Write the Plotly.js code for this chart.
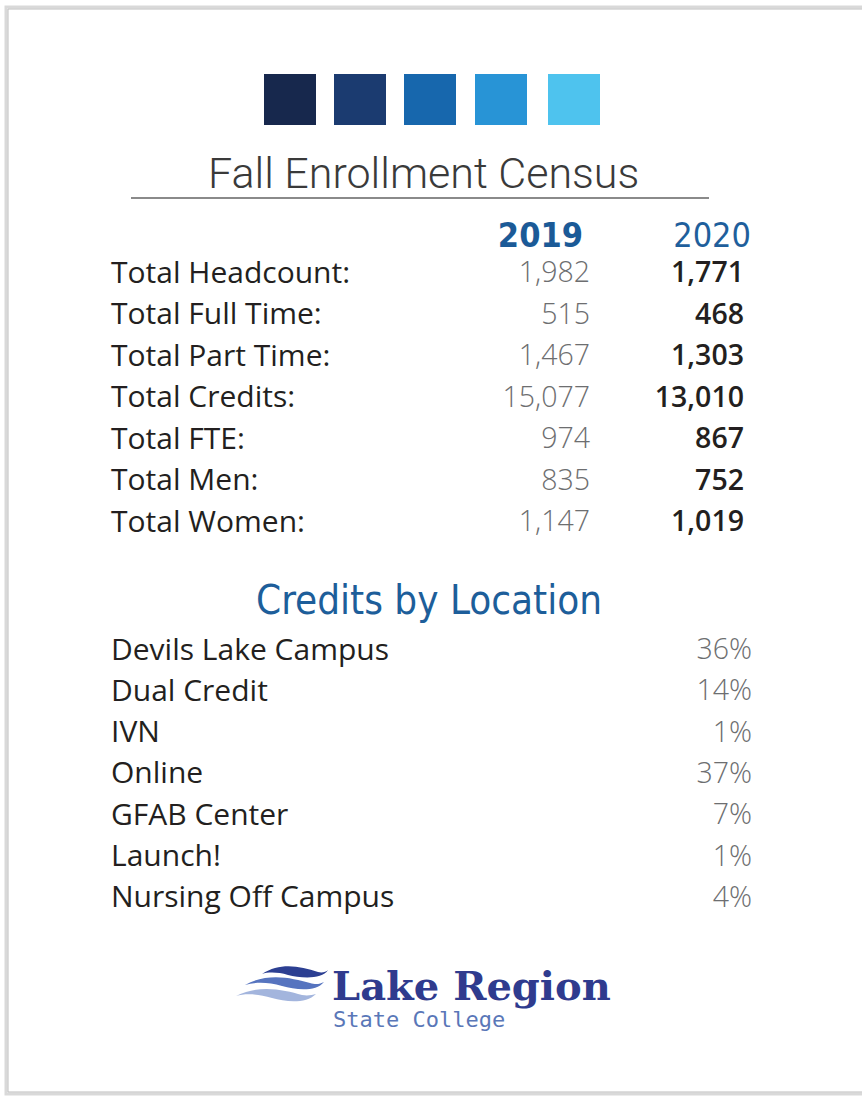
<!DOCTYPE html>
<html><head><meta charset="utf-8">
<script src="https://cdn.plot.ly/plotly-3.0.1.min.js"></script>
<style>html,body{margin:0;padding:0;background:#fff;}#chart{width:862px;height:1100px;}</style>
</head><body><div id="chart"></div>
<script>
const years = ["2019", "2020"];
const metrics = ["Total Headcount:", "Total Full Time:", "Total Part Time:", "Total Credits:", "Total FTE:", "Total Men:", "Total Women:"];
const values2019 = [1982, 515, 1467, 15077, 974, 835, 1147];
const values2020 = [1771, 468, 1303, 13010, 867, 752, 1019];
const locations = ["Devils Lake Campus", "Dual Credit", "IVN", "Online", "GFAB Center", "Launch!", "Nursing Off Campus"];
const locationPct = [36, 14, 1, 37, 7, 1, 4];
const swatchColors = ["#17284d", "#1b3b70", "#1767ad", "#2894d6", "#4ec3ee"];

const fmt = v => v.toLocaleString('en-US');
const rowY0 = 275, rowStep = 41.5;
const locY0 = 652, locStep = 41.3;
const mY = metrics.map((_, i) => rowY0 + i * rowStep);
const lY = locations.map((_, i) => locY0 + i * locStep);

const labelFont = {family: "'Open Sans', 'Noto Sans', sans-serif", size: 30, color: "#231f20"};
const condensed = "'DejaVu Sans Condensed', 'Liberation Sans Narrow', Roboto, sans-serif";

const traces = [
  {x: metrics.map(() => 111), y: mY, text: metrics, mode: "text", textposition: "middle right",
   textfont: labelFont, hoverinfo: "skip"},
  {x: metrics.map(() => 590), y: mY, text: values2019.map(fmt), mode: "text", textposition: "middle left",
   textfont: {family: "'Open Sans', sans-serif", size: 28.5, color: "#6d6e70", weight: 300}, hoverinfo: "skip"},
  {x: metrics.map(() => 744), y: mY, text: values2020.map(fmt), mode: "text", textposition: "middle left",
   textfont: {family: "'Open Sans', sans-serif", size: 28.5, color: "#231f20", weight: 600}, hoverinfo: "skip"},
  {x: [583, 751], y: [238, 238], text: years, mode: "text", textposition: "middle left",
   textfont: {family: condensed, size: 34, color: ["#1b5a97", "#1f5f9c"], weight: [700, 400]}, hoverinfo: "skip"},
  {x: locations.map(() => 111), y: lY, text: locations, mode: "text", textposition: "middle right",
   textfont: labelFont, hoverinfo: "skip"},
  {x: locations.map(() => 752), y: lY, text: locationPct.map(p => p + "%"), mode: "text", textposition: "middle left",
   textfont: {family: "'Open Sans', sans-serif", size: 28.5, color: "#6d6e70", weight: 300}, hoverinfo: "skip"}
];

const shapes = [
  {type: "rect", xref: "x", yref: "y", x0: 6, x1: 875, y0: 7, y1: 1094, line: {color: "#d9d9d9", width: 3}, fillcolor: "rgba(0,0,0,0)", layer: "below"},
  {type: "rect", xref: "x", yref: "y", x0: 8, x1: 875, y0: 9, y1: 1092, line: {color: "#bdbdbd", width: 1}, fillcolor: "#ffffff", layer: "below"},
  {type: "line", x0: 131, x1: 709, y0: 198, y1: 198, line: {color: "#8a8a8a", width: 2}},
];
const sqX = [264, 334, 404, 475, 548];
swatchColors.forEach((c, i) => shapes.push({type: "rect", x0: sqX[i], x1: sqX[i] + 52, y0: 74, y1: 125, fillcolor: c, line: {width: 0}}));
// logo waves
shapes.push(
  {type: "path", path: "M 262 974 C 280 962, 300 966, 318 972 C 322 973, 326 972, 328 970 C 322 980, 300 978, 288 975 C 278 972, 268 972, 262 974 Z", fillcolor: "#2c3f92", line: {width: 0}},
  {type: "path", path: "M 245 985 C 268 972, 292 978, 310 983 C 316 985, 320 984, 324 982 C 316 992, 296 990, 282 986 C 268 982, 255 982, 245 985 Z", fillcolor: "#5674bf", line: {width: 0}},
  {type: "path", path: "M 236 996 C 260 984, 284 990, 302 995 C 308 996, 312 995, 316 994 C 306 1004, 286 1002, 272 998 C 258 994, 246 993, 236 996 Z", fillcolor: "#a3b5dd", line: {width: 0}}
);

const annotations = [
  {x: 423, y: 173, text: "Fall Enrollment Census", showarrow: false, xanchor: "center", yanchor: "middle",
   font: {family: "Roboto, sans-serif", size: 43, color: "#3a3a3a", weight: 300}},
  {x: 429, y: 600, text: "Credits by Location", showarrow: false, xanchor: "center", yanchor: "middle",
   font: {family: condensed, size: 40, color: "#1d5e9a"}},
  {x: 330, y: 985, text: "Lake Region", showarrow: false, xanchor: "left", yanchor: "middle",
   font: {family: "'DejaVu Serif', 'Liberation Serif', serif", size: 40, color: "#2f3b8e", weight: 700}},
  {x: 331, y: 1019, text: "State College", showarrow: false, xanchor: "left", yanchor: "middle",
   font: {family: "'DejaVu Sans Mono', 'Liberation Mono', monospace", size: 22, color: "#5a77b8"}}
];

const layout = {
  width: 862, height: 1100, margin: {l: 0, r: 0, t: 0, b: 0},
  paper_bgcolor: "#ffffff", plot_bgcolor: "rgba(0,0,0,0)", showlegend: false,
  xaxis: {range: [0, 862], visible: false, fixedrange: true},
  yaxis: {range: [1100, 0], visible: false, fixedrange: true},
  shapes: shapes, annotations: annotations
};
Plotly.newPlot("chart", traces, layout, {staticPlot: true, displayModeBar: false});
</script></body></html>
